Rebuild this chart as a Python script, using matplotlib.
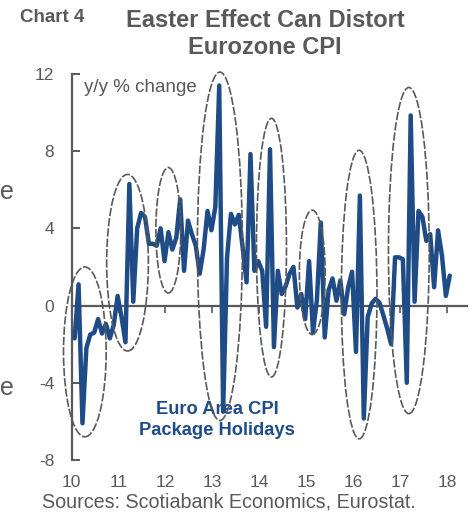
import matplotlib
matplotlib.use("Agg")
import matplotlib.pyplot as plt
from matplotlib.patches import Ellipse
import numpy as np

plt.rcParams['font.family'] = ['Liberation Sans', 'DejaVu Sans']
plt.rcParams['axes.unicode_minus'] = False

# Monthly y/y % change, Euro Area CPI: Package Holidays, Feb 2010 onward
start_year = 2010
start_month_index = 1  # Feb 2010 (0 = Jan 2010)
values = [
    -1.7, 1.1, -6.1, -2.2, -1.5, -1.4, -0.7, -1.45, -0.95, -1.7, -1.0,          # 2010 Feb-Dec
    0.5, -0.6, -1.9, 6.3, 0.2, 4.0, 4.8, 4.6, 3.2, 3.2, 3.1, 4.0,               # 2011
    2.3, 3.8, 2.9, 3.5, 5.5, 1.8, 4.4, 3.7, 3.1, 1.65, 2.9, 4.9,                # 2012
    3.9, 5.1, 11.4, -5.5, 2.5, 4.75, 4.2, 4.7, 3.0, 1.2, 7.85, 1.8,             # 2013
    2.3, 1.8, -1.1, 8.1, -2.15, 1.8, 0.6, 1.0, 1.65, 2.0, -0.1, 0.6,            # 2014
    -0.7, 2.3, -1.4, 0.3, 4.3, -1.65, 0.8, 1.4, 0.25, 1.3, -0.45, 0.95,         # 2015
    1.75, -2.4, 5.7, -5.85, -0.6, 0.1, 0.35, 0.15, -0.5, -1.2, -2.0, 2.5,       # 2016
    2.5, 2.4, -4.0, 9.85, 0.2, 4.9, 4.6, 3.35, 3.7, 0.95, 3.9, 2.6,             # 2017
    0.5, 1.55,                                                                  # 2018
]

# Easter-effect ellipses: (center year, center value, width in years, height in %)
ell_x = [2010.28, 2011.19, 2012.06, 2013.16, 2014.26, 2015.13, 2016.13, 2017.19]
ell_y = [-2.4, 2.22, 3.9, 3.07, 3.0, 1.72, 0.57, 2.85]
ell_w = [0.91, 0.89, 0.53, 0.96, 0.64, 0.55, 0.76, 0.87]
ell_h = [8.8, 9.15, 6.5, 18.05, 13.4, 6.45, 14.95, 16.9]

year_ticks = [2010, 2011, 2012, 2013, 2014, 2015, 2016, 2017, 2018]
year_labels = ['10', '11', '12', '13', '14', '15', '16', '17', '18']
y_ticks = [-8, -4, 0, 4, 8, 12]

gray = '#595959'
blue = '#1F4C86'

k = np.arange(len(values)) + start_month_index
x = start_year + (k - 0.25) / 12.0

fig = plt.figure(figsize=(4.70, 5.12), dpi=100)
ax = fig.add_axes([0.1526, 0.1016, 0.841, 0.754])

ax.plot(x, values, color=blue, lw=3.2, solid_joinstyle='round',
        solid_capstyle='round', zorder=3)

for cx, cy, w, h in zip(ell_x, ell_y, ell_w, ell_h):
    e = Ellipse((cx, cy), w, h, fill=False, edgecolor=gray, lw=1.2,
                linestyle=(0, (5, 1.2)), zorder=4, clip_on=False)
    ax.add_patch(e)

ax.set_xlim(2010, 2018.43)
ax.set_ylim(-8, 12)

for s in ['top', 'right']:
    ax.spines[s].set_visible(False)
ax.spines['left'].set_color(gray)
ax.spines['left'].set_linewidth(1.6)
ax.spines['bottom'].set_position(('data', 0))
ax.spines['bottom'].set_color(gray)
ax.spines['bottom'].set_linewidth(1.6)

ax.set_yticks(y_ticks)
ax.tick_params(axis='y', direction='in', length=6, width=1.4, color=gray,
               labelcolor=gray, labelsize=12.5, pad=12.5)
ax.set_xticks(year_ticks)
ax.tick_params(axis='x', direction='out', length=5, width=1.2, color=gray,
               labelbottom=False)

sec = ax.secondary_xaxis('bottom')
sec.set_xticks(year_ticks, year_labels)
sec.tick_params(axis='x', length=0, labelcolor=gray, labelsize=12.5, pad=11)
sec.spines['bottom'].set_visible(False)

ax.text(0.03, 0.988, 'y/y % change', transform=ax.transAxes, ha='left',
        va='top', fontsize=13.5, color=gray)

ax.text(2013.1, -5.95, 'Euro Area CPI\nPackage Holidays', ha='center',
        va='center', fontsize=13.2, fontweight='bold', color=blue,
        linespacing=1.3)

fig.text(20 / 470, 1 - 18 / 512, 'Chart 4', ha='left', va='center',
         fontsize=13.5, fontweight='bold', color=gray)
fig.text(265 / 470, 1 - 34 / 512, 'Easter Effect Can Distort\nEurozone CPI',
         ha='center', va='center', fontsize=17, fontweight='bold', color=gray,
         linespacing=1.2)
fig.text(42 / 470, 1 - 502 / 512, 'Sources: Scotiabank Economics, Eurostat.',
         ha='left', va='center', fontsize=14.2, color=gray)

# partially visible letters at left edge
fig.text(0.0, 1 - 192 / 512, 'e', ha='left', va='center', fontsize=18,
         color=gray)
fig.text(0.0, 1 - 388 / 512, 'e', ha='left', va='center', fontsize=18,
         color=gray)

fig.savefig('out.png', dpi=100)
